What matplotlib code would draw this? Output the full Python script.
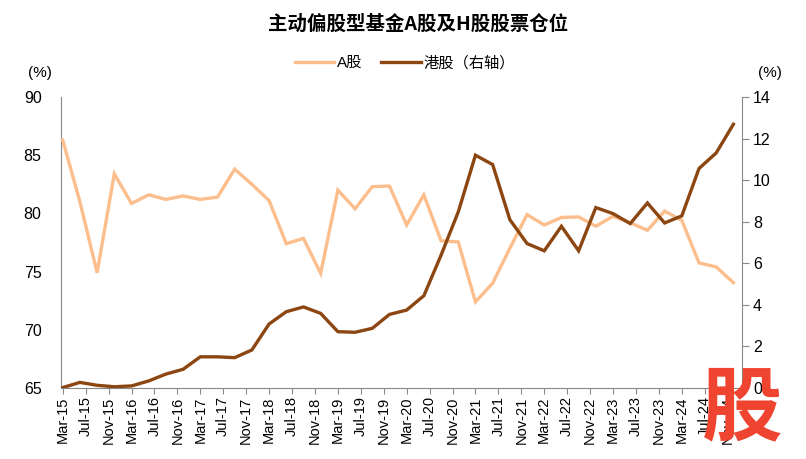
import matplotlib
matplotlib.use("Agg")
import matplotlib.pyplot as plt
import numpy as np

plt.rcParams['font.family'] = ['Liberation Sans', 'Noto Sans CJK SC', 'DejaVu Sans']

# Quarterly data, Mar-15 .. Dec-24
start_year, start_month = 2015, 3
a_share = [86.3, 81.0, 74.9, 83.4, 80.85, 81.6, 81.2, 81.5, 81.2, 81.4,
           83.8, 82.5, 81.1, 77.4, 77.85, 74.85, 82.0, 80.4, 82.3, 82.35,
           79.0, 81.6, 77.65, 77.55, 72.4, 74.0, 77.0, 79.9, 79.0, 79.65,
           79.7, 78.9, 79.75, 79.2, 78.55, 80.2, 79.4, 75.75, 75.4, 74.05]
hk_share = [0.02, 0.27, 0.13, 0.06, 0.1, 0.34, 0.67, 0.9, 1.5, 1.5,
            1.46, 1.83, 3.08, 3.67, 3.9, 3.59, 2.71, 2.68, 2.87, 3.54,
            3.75, 4.44, 6.39, 8.47, 11.2, 10.75, 8.1, 6.95, 6.6, 7.78,
            6.6, 8.68, 8.39, 7.91, 8.9, 7.94, 8.28, 10.56, 11.31, 12.69]
month_names = ['Jan', 'Feb', 'Mar', 'Apr', 'May', 'Jun', 'Jul', 'Aug', 'Sep', 'Oct', 'Nov', 'Dec']

title = '主动偏股型基金A股及H股股票仓位'
label_a = 'A股'
label_hk = '港股（右轴）'

# month offsets from Mar-15
x = np.arange(len(a_share)) * 3
tick_pos = np.arange(0, 117, 4)
tick_labels = []
for p in tick_pos:
    m = (start_month - 1 + p) % 12
    y = start_year + (start_month - 1 + p) // 12
    tick_labels.append(f"{month_names[m]}-{y % 100:02d}")

fig = plt.figure(figsize=(8.06, 4.59), dpi=100)
ax = fig.add_axes([61/806, 1 - 388/459, (742-61)/806, (388-97)/459])
ax2 = ax.twinx()

c_a = '#FBBE8C'
c_hk = '#8C4612'
grey = '#888888'

la, = ax.plot(x, a_share, color=c_a, lw=2.4, solid_joinstyle='miter', zorder=3)
lh, = ax2.plot(x, hk_share, color=c_hk, lw=2.4, solid_joinstyle='miter', zorder=3)

ax.set_xlim(-0.3, 118.5)
ax.set_ylim(65, 90)
ax2.set_ylim(0, 14)
ax.set_yticks(np.arange(65, 91, 5))
ax2.set_yticks(np.arange(0, 15, 2))
ax.set_xticks(tick_pos)
ax.set_xticklabels(tick_labels, rotation=90, fontsize=10.5)

for a in (ax, ax2):
    for s in a.spines.values():
        s.set_color(grey)
    a.spines['top'].set_visible(False)
ax.spines['right'].set_visible(False)
ax2.spines['left'].set_visible(False)
ax2.spines['bottom'].set_visible(False)

ax.tick_params(axis='y', length=0, labelsize=11.5, pad=14)
ax.tick_params(axis='x', length=4, color=grey, pad=2)
ax2.tick_params(axis='y', length=5, color=grey, labelsize=11.5, pad=3)

fig.text(40/806, 1 - 73/459, '(%)', ha='center', va='center', fontsize=11)
fig.text(770/806, 1 - 73/459, '(%)', ha='center', va='center', fontsize=11)

fig.text(418/806, 1 - 24/459, title, ha='center', va='center', fontsize=14,
         fontweight='bold', family=['Noto Sans CJK SC', 'Liberation Sans'])

fig.legend([la, lh], [label_a, label_hk], loc='center', bbox_to_anchor=(405/806, 1 - 63/459),
           ncol=2, frameon=False, fontsize=11, handlelength=2.6, columnspacing=1.2,
           handletextpad=0.2, prop={'family': ['Liberation Sans', 'Noto Sans CJK SC'], 'size': 11})

# watermark
fig.text(742/806, 1 - 410/459, '股', ha='center', va='center', fontsize=58,
         fontweight='black', color='#EE4430', family=['Noto Sans CJK SC'], zorder=10)

fig.savefig('out.png', dpi=100)
